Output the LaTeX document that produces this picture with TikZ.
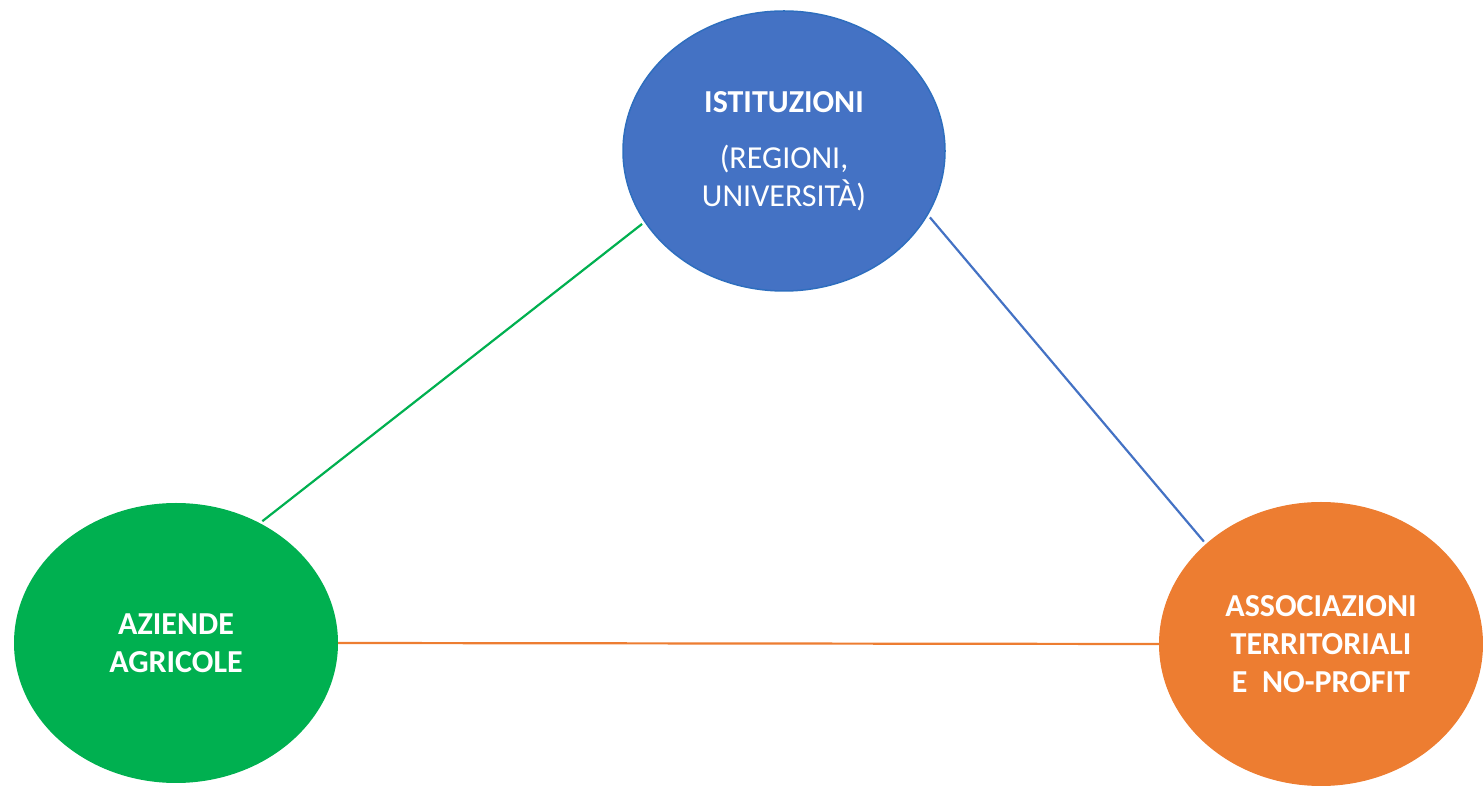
\documentclass[tikz,border=0pt]{standalone}
\usepackage{fontspec}
\setmainfont{Carlito}
\usetikzlibrary{shapes.geometric}
\definecolor{istblue}{HTML}{4472C4}
\definecolor{istborder}{HTML}{2E6EBE}
\definecolor{azgreen}{HTML}{00B050}
\definecolor{asorange}{HTML}{ED7D31}

\tikzstyle{actor} = [ellipse, minimum width=324pt, minimum height=280pt, inner sep=0pt, text=white, align=center, font=\fontsize{32}{38}\selectfont]
\tikzstyle{link} = [line width=2.2pt, shorten <=3pt, shorten >=3pt]

\begin{document}
\begin{tikzpicture}[x=1pt, y=1pt, node distance = 494pt]
	\useasboundingbox (0,0) rectangle (1483,787);
	% Place nodes
	\node [actor, fill=istblue, draw=istborder, line width=1.5pt, minimum width=322pt] (Istituzioni) at (784,636) {\textbf{ISTITUZIONI}\\[18pt](REGIONI,\\UNIVERSITÀ)};
	\node [actor, fill=azgreen, below of=Istituzioni, xshift=-608pt, yshift=2pt] (Aziende) {\textbf{AZIENDE}\\\textbf{AGRICOLE}};
	\node [actor, fill=asorange, right of=Aziende, xshift=651pt, yshift=-1pt, minimum height=284pt] (Associazioni) {\textbf{ASSOCIAZIONI}\\\textbf{TERRITORIALI}\\\textbf{E\ \ NO-PROFIT}};
	% Draw edges
	\draw [link, draw=azgreen] (Istituzioni.207) -- (Aziende.55);
	\draw [link, draw=istblue] (Istituzioni.336) -- (Associazioni.139);
	\draw [link, draw=asorange, shorten <=0pt, shorten >=0pt] (Aziende.east) -- (Associazioni.west);
\end{tikzpicture}
\end{document}
